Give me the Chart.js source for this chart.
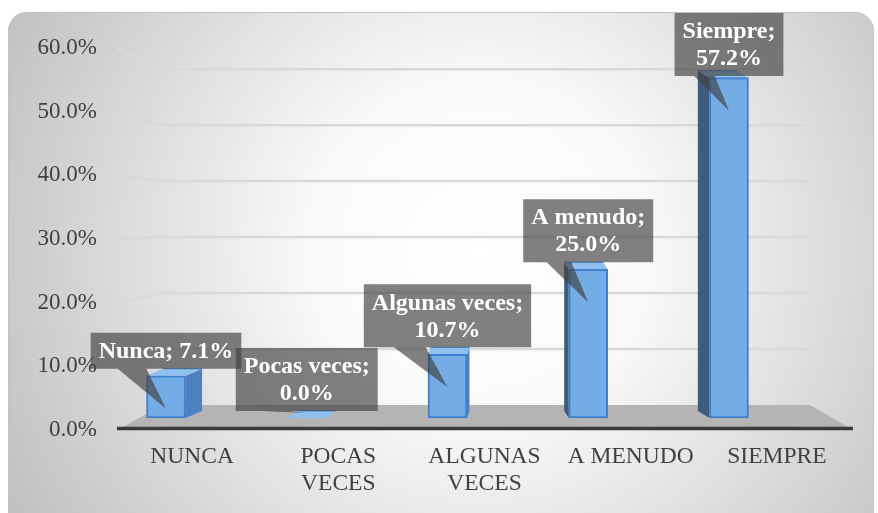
<!DOCTYPE html>
<html><head><meta charset="utf-8">
<script src="https://cdn.jsdelivr.net/npm/chart.js@4.4.1/dist/chart.umd.min.js"></script>
<style>html,body{margin:0;padding:0;background:#fff;overflow:hidden}canvas{display:block}</style>
</head><body>
<canvas id="c" width="878" height="513"></canvas>
<script>
const categories = ['NUNCA', ['POCAS', 'VECES'], ['ALGUNAS', 'VECES'], 'A MENUDO', 'SIEMPRE'];
const seriesNames = ['Nunca', 'Pocas veces', 'Algunas veces', 'A menudo', 'Siempre'];
const values = [7.1, 0.0, 10.7, 25.0, 57.2];
const yTicks = [0, 10, 20, 30, 40, 50, 60];
const yTickLabels = ['0.0%', '10.0%', '20.0%', '30.0%', '40.0%', '50.0%', '60.0%'];
const labelWrap = [false, true, true, true, true];

const FONT = "'Liberation Serif','Times New Roman',serif";
const VP = { x: 497, y: 223 }, DEPTH = 0.879;

function poly(c, pts) {
  c.beginPath();
  pts.forEach((p, i) => i ? c.lineTo(p[0], p[1]) : c.moveTo(p[0], p[1]));
  c.closePath();
  c.fill();
}

const decor = {
  id: 'decor',
  beforeDraw(chart) {
    const c = chart.ctx;
    c.save();
    const g = c.createRadialGradient(480, 250, 0, 480, 250, 560);
    g.addColorStop(0, '#ffffff');
    g.addColorStop(0.3, '#f9f9f9');
    g.addColorStop(1, '#bcbcbc');
    c.beginPath();
    c.roundRect(8.5, 12.5, 865, 520, 18);
    c.fillStyle = g; c.fill();
    c.strokeStyle = '#c2c2c2'; c.lineWidth = 1; c.stroke();
    c.restore();
  },
  beforeDatasetsDraw(chart) {
    const c = chart.ctx, a = chart.chartArea, y = chart.scales.y;
    const back = p => VP.y + (p - VP.y) * DEPTH;
    const bx = x => VP.x + (x - VP.x) * DEPTH;
    const L = a.left - 2, R = a.right + 3, B = a.bottom;
    c.save();
    c.strokeStyle = '#d9d9d9'; c.lineWidth = 2.5;
    yTicks.forEach(v => {
      if (v === 0) return;
      const fy = y.getPixelForValue(v);
      c.beginPath();
      c.moveTo(L, fy); c.lineTo(bx(L), back(fy)); c.lineTo(bx(R), back(fy));
      c.stroke();
    });
    c.fillStyle = '#b4b4b4';
    poly(c, [[L, B], [R, B], [bx(R), back(B)], [bx(L), back(B)]]);
    c.strokeStyle = '#3a3a3a'; c.lineWidth = 3.5;
    c.beginPath(); c.moveTo(L, B - 1.5); c.lineTo(R, B - 1.5); c.stroke();
    // 3D faces of bars
    const meta = chart.getDatasetMeta(0);
    meta.data.forEach(el => {
      const dx = (el.x - VP.x) * -0.05, dy = -7;
      const l = el.x - el.width / 2, r = el.x + el.width / 2;
      const e = dx < 0 ? l : r;
      c.fillStyle = dx < 0 ? '#3f5b7e' : '#4f80c2';
      poly(c, [[e, el.y], [e + dx, el.y + dy], [e + dx, el.base + dy], [e, el.base]]);
      c.fillStyle = '#8fc0ee';
      poly(c, [[l, el.y], [r, el.y], [r + dx, el.y + dy], [l + dx, el.y + dy]]);
      c.strokeStyle = '#3f7fcc'; c.lineWidth = 1;
      c.beginPath(); c.moveTo(l + dx, el.y + dy); c.lineTo(r + dx, el.y + dy); c.stroke();
    });
    c.restore();
  },
  afterDatasetsDraw(chart) {
    const c = chart.ctx;
    const meta = chart.getDatasetMeta(0);
    c.save();
    c.font = 'bold 24px ' + FONT;
    meta.data.forEach((el, i) => {
      const vtxt = values[i].toFixed(1) + '%';
      const lines = labelWrap[i] ? [seriesNames[i] + ';', vtxt] : [seriesNames[i] + '; ' + vtxt];
      const tw = Math.max(...lines.map(s => c.measureText(s).width));
      const w = tw + 16, lh = 27, h = lines.length * lh + 9;
      let bottom = el.y - 7, top = bottom - h;
      if (top < 13) { top = 13; bottom = top + h; }
      const left = el.x - w / 2;
      const tipX = el.x, tipY = Math.min(el.y + 33, el.base - 5);
      c.fillStyle = 'rgba(64,64,64,0.66)';
      poly(c, [[left, top], [left + w, top], [left + w, bottom], [left + 0.37 * w, bottom],
               [tipX, tipY], [left + 0.18 * w, bottom], [left, bottom]]);
      c.fillStyle = '#ffffff';
      c.textAlign = 'center'; c.textBaseline = 'middle';
      lines.forEach((s, j) => c.fillText(s, el.x, top + 4.5 + lh * j + lh / 2 + 1));
    });
    c.restore();
  }
};

new Chart(document.getElementById('c'), {
  type: 'bar',
  data: {
    labels: categories,
    datasets: [{
      data: values.map((v, i) => ({ x: i, y: v })),
      xAxisID: 'xb', yAxisID: 'yb',
      backgroundColor: '#74ade6',
      borderColor: '#3f7fcc',
      borderWidth: 2,
      borderSkipped: false,
      barThickness: 39
    }]
  },
  options: {
    responsive: false,
    devicePixelRatio: 1,
    animation: false,
    events: [],
    layout: { padding: { left: 0, right: 28, top: 48, bottom: 0 } },
    plugins: { legend: { display: false }, tooltip: { enabled: false } },
    scales: {
      x: {
        type: 'category', labels: categories, offset: true, position: 'bottom',
        grid: { display: false, drawTicks: false }, border: { display: false },
        ticks: { color: '#404040', font: { family: FONT, size: 23.5, lineHeight: 1.15 }, padding: 13, maxRotation: 0, autoSkip: false },
        afterFit(s) { s.height = 83; }
      },
      xb: { type: 'linear', display: false, offset: false, min: -0.334, max: 4.86 },
      y: {
        type: 'linear', position: 'left', min: 0, max: 60,
        grid: { display: false, drawTicks: false }, border: { display: false },
        ticks: {
          stepSize: 10, color: '#404040', padding: 22,
          font: { family: FONT, size: 23 },
          callback: v => yTickLabels[yTicks.indexOf(v)]
        },
        afterFit(s) { s.width = 119; }
      },
      yb: { type: 'linear', display: false, min: -2.017, max: 62.19 }
    }
  },
  plugins: [decor]
});
</script>
</body></html>
